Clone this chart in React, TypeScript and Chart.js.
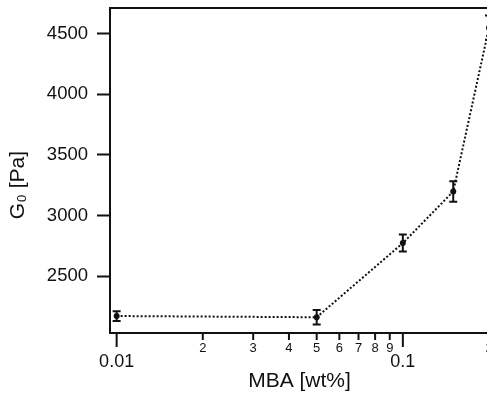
import React, { useEffect, useRef } from "react";
import { Chart, registerables } from "chart.js";

Chart.register(...registerables);

const mbaValues = [0.01, 0.05, 0.1, 0.15, 0.2];
const g0Values = [2170, 2160, 2772, 3198, 4550];
const g0Errors = [40, 60, 70, 84, 100];

const xTickValues = [0.01, 0.02, 0.03, 0.04, 0.05, 0.06, 0.07, 0.08, 0.09, 0.1, 0.2];
const xTickLabels = ["0.01", "2", "3", "4", "5", "6", "7", "8", "9", "0.1", "2"];
const xTickMajor = [true, false, false, false, false, false, false, false, false, true, false];
const yTickValues = [2500, 3000, 3500, 4000, 4500];

const FONT = "'Liberation Sans', Arial, Helvetica, sans-serif";
const INK = "#111111";

const frameAndErrors = {
  id: "frameAndErrors",
  afterDatasetsDraw(chart: any) {
    const { ctx, chartArea, scales } = chart;
    const xs = scales.x;
    const ys = scales.y;
    ctx.save();
    ctx.strokeStyle = INK;
    ctx.lineWidth = 2;
    // error bars
    mbaValues.forEach((xv, i) => {
      const px = xs.getPixelForValue(xv);
      const top = ys.getPixelForValue(g0Values[i] + g0Errors[i]);
      const bot = ys.getPixelForValue(g0Values[i] - g0Errors[i]);
      ctx.beginPath();
      ctx.moveTo(px, top);
      ctx.lineTo(px, bot);
      ctx.moveTo(px - 4, top);
      ctx.lineTo(px + 4, top);
      ctx.moveTo(px - 4, bot);
      ctx.lineTo(px + 4, bot);
      ctx.stroke();
    });
    // top frame line
    ctx.beginPath();
    ctx.moveTo(chartArea.left - 1, chartArea.top);
    ctx.lineTo(chartArea.right + 20, chartArea.top);
    ctx.stroke();
    // x tick marks (major long, minor short)
    xs.ticks.forEach((t: any, i: number) => {
      const px = xs.getPixelForValue(t.value);
      const len = xTickMajor[i] ? 14 : 7;
      ctx.beginPath();
      ctx.moveTo(px, chartArea.bottom);
      ctx.lineTo(px, chartArea.bottom + len);
      ctx.stroke();
    });
    ctx.restore();
  },
};

export default function App() {
  const canvasRef = useRef<HTMLCanvasElement | null>(null);

  useEffect(() => {
    if (!canvasRef.current) return;
    const chart = new Chart(canvasRef.current, {
      type: "line",
      data: {
        datasets: [
          {
            data: mbaValues.map((x, i) => ({ x, y: g0Values[i] })),
            borderColor: INK,
            backgroundColor: INK,
            borderWidth: 2,
            borderDash: [2, 2],
            pointRadius: 3,
            pointBackgroundColor: INK,
            pointBorderWidth: 0,
            clip: false as any,
            tension: 0,
          },
        ],
      },
      plugins: [frameAndErrors],
      options: {
        animation: false,
        responsive: false,
        devicePixelRatio: 1,
        layout: { padding: { top: 8, right: 11, bottom: 0, left: 0 } },
        plugins: { legend: { display: false }, tooltip: { enabled: false } },
        scales: {
          x: {
            type: "logarithmic",
            position: "bottom",
            min: 0.00948,
            max: 0.2,
            afterBuildTicks: (scale: any) => {
              scale.ticks = xTickValues.map((v, i) => ({ value: v, major: xTickMajor[i] }));
            },
            afterFit: (scale: any) => {
              scale.height = 64;
              scale.paddingLeft = 0;
              scale.paddingRight = 0;
            },
            grid: { drawOnChartArea: false, drawTicks: false },
            border: { display: true, color: INK, width: 2 },
            ticks: {
              autoSkip: false,
              maxRotation: 0,
              minRotation: 0,
              padding: 8,
              color: INK,
              callback: (_v: any, i: number) => xTickLabels[i],
              font: (c: any) =>
                xTickMajor[c.index]
                  ? { family: FONT, size: 18, lineHeight: "42px" }
                  : { family: FONT, size: 13, lineHeight: 1.2 },
            },
            title: {
              display: true,
              text: "MBA [wt%]",
              color: INK,
              font: { family: FONT, size: 21 },
              padding: { top: 0, bottom: 3 },
            },
          },
          y: {
            type: "linear",
            position: "left",
            min: 2030,
            max: 4712,
            afterBuildTicks: (scale: any) => {
              scale.ticks = yTickValues.map((v) => ({ value: v }));
            },
            afterFit: (scale: any) => {
              scale.width = 110;
              scale.paddingTop = 0;
              scale.paddingBottom = 0;
            },
            grid: { drawOnChartArea: false, drawTicks: true, tickLength: 13, tickWidth: 2, tickColor: INK },
            border: { display: true, color: INK, width: 2 },
            ticks: {
              padding: 9,
              color: INK,
              font: { family: FONT, size: 18.5 },
              callback: (v: any) => String(v),
            },
            title: {
              display: true,
              text: "G₀ [Pa]     ",
              color: INK,
              font: { family: FONT, size: 21 },
              padding: { top: 6, bottom: 0 },
            },
          },
        },
      },
    });
    return () => chart.destroy();
  }, []);

  return (
    <div
      style={{
        position: "fixed",
        left: 0,
        top: 0,
        width: 487,
        height: 397,
        overflow: "hidden",
        background: "#fff",
      }}
    >
      <canvas ref={canvasRef} width={500} height={397} style={{ display: "block", width: 500, height: 397 }} />
    </div>
  );
}
